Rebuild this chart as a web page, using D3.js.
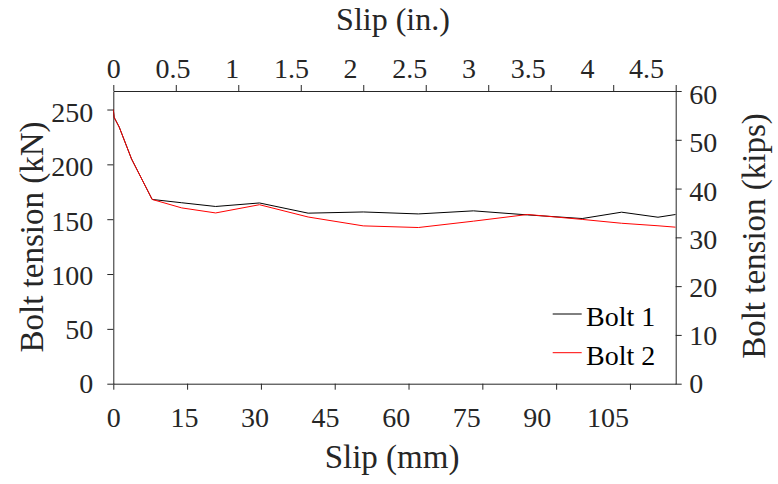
<!DOCTYPE html>
<html><head><meta charset="utf-8">
<script src="https://cdn.jsdelivr.net/npm/d3@7"></script>
<style>body{margin:0;background:#fff}svg{display:block}</style>
</head><body>
<svg id="c" width="778" height="484"></svg>
<script>
// ---- data ----
const slipMm = [0, 0.15, 1.2, 3.7, 7.9, 13.9, 20.8, 29.7, 39.6, 50.8, 62.0, 73.2, 84.2, 95.3, 103.3, 110.7, 114.3];
const bolt1  = [250, 243, 234, 205, 168, 165.0, 161.6, 164.8, 155.5, 156.6, 154.8, 157.6, 153.9, 150.6, 156.4, 151.8, 154.3];
const bolt2  = [250, 243, 234, 205, 168, 160.3, 155.7, 163.2, 152.0, 143.9, 142.4, 148.2, 154.3, 149.8, 146.3, 144.0, 142.7];
const seriesNames  = ["Bolt 1", "Bolt 2"];
const seriesColors = ["#000000", "#ff0000"];
const mmTicks   = [0, 15, 30, 45, 60, 75, 90, 105];
const inTicks   = [0, 0.5, 1, 1.5, 2, 2.5, 3, 3.5, 4, 4.5];
const kNTicks   = [0, 50, 100, 150, 200, 250];
const kipsTicks = [0, 10, 20, 30, 40, 50, 60];

// ---- layout ----
const L = 113.3, R = 675.7, T = 91, B = 383.7;
const font = "'Liberation Serif','Times New Roman',serif";
const ink = "#262626";
const svg = d3.select("#c");

const x      = d3.scaleLinear([0, 114.3], [L, R]);
const xLab   = d3.scaleLinear([0, 119.5], [L, R]);
const xIn    = d3.scaleLinear([0, 4.5], [L, R]);
const xInLab = d3.scaleLinear([0, 4.75], [L, R]);
const y      = d3.scaleLinear([0, 266.89], [B, T]);
const yLab   = d3.scaleLinear([0, 270], [B, T]);
const yK     = d3.scaleLinear([0, 60], [B, T]);
const yKLab  = d3.scaleLinear([0, 60.8], [B, T]);

function styleAxis(g, keepDomain) {
  g.selectAll("line").attr("stroke", ink);
  g.select(".domain").attr("stroke", ink).attr("display", keepDomain ? null : "none");
  g.selectAll("text").attr("fill", ink).style("font-family", font).style("font-size", "28px");
  g.attr("font-family", null).attr("font-size", null);
}

// tick marks + box lines
svg.append("g").attr("transform", `translate(0,${B})`)
  .call(d3.axisBottom(x).tickValues(mmTicks).tickFormat("").tickSize(6).tickSizeOuter(0))
  .call(g => styleAxis(g, true));
svg.append("g").attr("transform", `translate(0,${T})`)
  .call(d3.axisTop(xIn).tickValues(inTicks).tickFormat("").tickSize(6).tickSizeOuter(0))
  .call(g => styleAxis(g, true));
svg.append("g").attr("transform", `translate(${L},0)`)
  .call(d3.axisLeft(y).tickValues(kNTicks).tickFormat("").tickSize(6).tickSizeOuter(0))
  .call(g => styleAxis(g, true));
svg.append("g").attr("transform", `translate(${R},0)`)
  .call(d3.axisRight(yK).tickValues(kipsTicks).tickFormat("").tickSize(6).tickSizeOuter(0))
  .call(g => styleAxis(g, true));

// tick labels
svg.append("g").attr("transform", `translate(0,${B})`)
  .call(d3.axisBottom(xLab).tickValues(mmTicks).tickFormat(d3.format("d")).tickSize(0).tickPadding(23.5))
  .call(g => styleAxis(g, false));
svg.append("g").attr("transform", `translate(0,${T})`)
  .call(d3.axisTop(xInLab).tickValues(inTicks).tickFormat(d => String(d)).tickSize(0).tickPadding(13.5))
  .call(g => styleAxis(g, false));
svg.append("g").attr("transform", `translate(${L},0)`)
  .call(d3.axisLeft(yLab).tickValues(kNTicks).tickFormat(d3.format("d")).tickSize(0).tickPadding(20))
  .call(g => styleAxis(g, false));
svg.append("g").attr("transform", `translate(${R},0)`)
  .call(d3.axisRight(yKLab).tickValues(kipsTicks).tickFormat(d3.format("d")).tickSize(0).tickPadding(13.5))
  .call(g => styleAxis(g, false));

// clip
svg.append("clipPath").attr("id", "clip").append("rect")
  .attr("x", L).attr("y", T).attr("width", R - L).attr("height", B - T);

const line = d3.line().x(d => x(d[0])).y(d => y(d[1]));
[bolt1, bolt2].forEach((s, i) => {
  svg.append("path")
    .datum(slipMm.map((m, k) => [m, s[k]]))
    .attr("d", line).attr("fill", "none")
    .attr("stroke", seriesColors[i]).attr("stroke-width", 1)
    .attr("clip-path", "url(#clip)");
});

// legend
seriesNames.forEach((n, i) => {
  const yy = 314 + i * 38.7;
  svg.append("line").attr("x1", 552.7).attr("x2", 581.7).attr("y1", yy).attr("y2", yy)
    .attr("stroke", seriesColors[i]).attr("stroke-width", 1);
  svg.append("text").attr("x", 586).attr("y", yy + 12).text(n)
    .attr("fill", "#000").style("font-family", font).style("font-size", "28px");
});

// axis titles
const title = (txt, tx, ty, rot, fs) => svg.append("text")
  .attr("transform", `translate(${tx},${ty}) rotate(${rot})`)
  .attr("text-anchor", "middle").attr("fill", ink)
  .style("font-family", font).style("font-size", fs + "px").text(txt);
title("Slip (in.)", 393, 30, 0, 32);
title("Slip (mm)", 392, 468, 0, 33);
title("Bolt tension (kN)", 43, 237, -90, 33);
title("Bolt tension (kips)", 765, 236, -90, 33);
</script>
</body></html>
